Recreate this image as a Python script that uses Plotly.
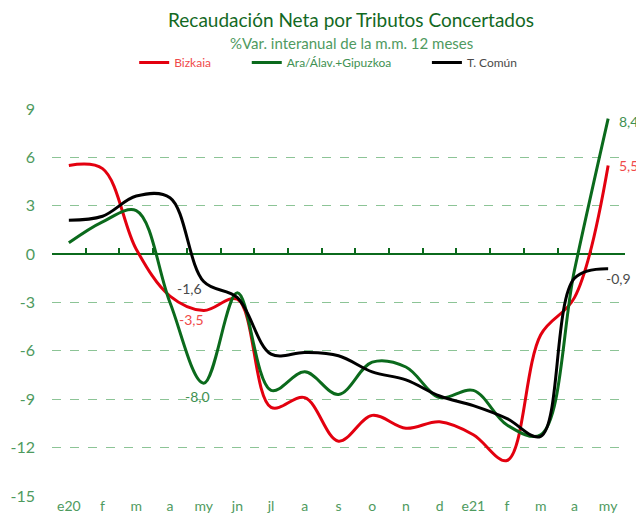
import plotly.graph_objects as go

meses = ["e20", "f", "m", "a", "my", "jn", "jl", "a", "s", "o", "n", "d", "e21", "f", "m", "a", "my"]
bizkaia = [5.5, 5.3, 0.3, -2.6, -3.5, -2.8, -9.5, -8.9, -11.6, -10.0, -10.8, -10.4, -11.2, -12.8, -5.0, -2.7, 5.5]
ara_gip = [0.7, 2.0, 2.7, -3.0, -8.0, -2.4, -8.45, -7.3, -8.7, -6.7, -7.0, -8.9, -8.45, -10.6, -11.2, -1.0, 8.4]
t_comun = [2.1, 2.35, 3.6, 3.5, -1.7, -2.7, -6.2, -6.1, -6.3, -7.3, -7.8, -8.8, -9.4, -10.2, -11.3, -1.5, -0.9]
y_ticks = [9, 6, 3, 0, -3, -6, -9, -12, -15]

RED = "#e3000f"
GREEN = "#0b6a1c"
BLACK = "#000000"
RED_TXT = "#f04a4a"
GREEN_TXT = "#3f9152"
GRAY_TXT = "#4a4a4a"
TICK_TXT = "#4e9a5e"
FONT = "Lato"

x = list(range(len(meses)))
n = len(meses)

fig = go.Figure()
series = [
    ("Bizkaia", bizkaia, RED, RED_TXT, 10),
    ("Ara/Álav.+Gipuzkoa", ara_gip, GREEN, GREEN_TXT, 10),
    ("T. Común", t_comun, BLACK, GRAY_TXT, 0),
]
for name, vals, col, tcol, pad in series:
    fig.add_trace(go.Scatter(
        x=x, y=vals, mode="lines",
        name=f"<span style='color:{tcol}'>{name}</span>" + "&nbsp;" * pad,
        line=dict(color=col, width=3, shape="spline", smoothing=1.0),
    ))

# dummy trace to realize the zero-line axis carrying boundary ticks
fig.add_trace(go.Scatter(x=x, y=[None] * n, xaxis="x2", showlegend=False, hoverinfo="skip"))

# data labels
i_my = meses.index("my")
last = n - 1
fig.add_annotation(x=x[i_my], y=t_comun[i_my], text=f"{t_comun[i_my]+0.1:.1f}".replace(".", ","),
                   showarrow=False, xanchor="right", yanchor="middle", xshift=0, yshift=-7,
                   font=dict(color=GRAY_TXT, size=14, family=FONT))
fig.add_annotation(x=x[i_my], y=bizkaia[i_my], text=f"{bizkaia[i_my]:.1f}".replace(".", ","),
                   showarrow=False, xanchor="right", yanchor="middle", xshift=2, yshift=-9,
                   font=dict(color=RED_TXT, size=14, family=FONT))
fig.add_annotation(x=x[i_my], y=ara_gip[i_my], text=f"{ara_gip[i_my]:.1f}".replace(".", ","),
                   showarrow=False, xanchor="center", yanchor="top", xshift=-6, yshift=-3,
                   font=dict(color=GREEN_TXT, size=14, family=FONT))
fig.add_annotation(x=x[last], y=ara_gip[last], text=f"{ara_gip[last]:.1f}".replace(".", ","),
                   showarrow=False, xanchor="left", yanchor="middle", xshift=9, yshift=-3,
                   font=dict(color=GREEN_TXT, size=14, family=FONT))
fig.add_annotation(x=x[last], y=bizkaia[last], text=f"{bizkaia[last]:.1f}".replace(".", ","),
                   showarrow=False, xanchor="left", yanchor="middle", xshift=9, yshift=0,
                   font=dict(color=RED_TXT, size=14, family=FONT))
fig.add_annotation(x=x[last], y=t_comun[last], text=f"{t_comun[last]:.1f}".replace(".", ","),
                   showarrow=False, xanchor="left", yanchor="middle", xshift=-4, yshift=-10,
                   font=dict(color=GRAY_TXT, size=14, family=FONT))

# title & subtitle
fig.add_annotation(xref="paper", yref="paper", x=0.522, y=1.23, xanchor="center", yanchor="middle",
                   text="Recaudación Neta por Tributos Concertados", showarrow=False,
                   font=dict(color="#13691f", size=19, family=FONT))
fig.add_annotation(xref="paper", yref="paper", x=0.522, y=1.17, xanchor="center", yanchor="middle",
                   text="%Var. interanual de la m.m. 12 meses", showarrow=False,
                   font=dict(color="#4f9a5f", size=15, family=FONT))

ymin, ymax = min(y_ticks), max(y_ticks)
zero_pos = (0 - ymin) / (ymax - ymin)

# page body adds an 8px margin; compensate so the chart fills the 644x524 window
fig.update_layout(
    width=636, height=516,
    margin=dict(l=44, r=19, t=101, b=28, autoexpand=False),
    paper_bgcolor="white", plot_bgcolor="white",
    font=dict(family=FONT, color=TICK_TXT),
    showlegend=True,
    legend=dict(orientation="h", x=0.482, xanchor="center", y=1.12, yanchor="middle",
                font=dict(size=12, family=FONT), itemwidth=30, tracegroupgap=0,
                bgcolor="rgba(0,0,0,0)"),
    xaxis=dict(
        range=[-0.5, n - 0.5], tickmode="array", tickvals=x, ticktext=meses,
        showgrid=False, zeroline=False, showline=False, ticks="", automargin=False,
        tickfont=dict(size=14, color=TICK_TXT, family=FONT),
    ),
    xaxis2=dict(
        overlaying="x", anchor="free", position=zero_pos, side="bottom",
        range=[-0.5, n - 0.5], tickmode="array", tickvals=[i - 0.5 for i in range(n + 1)],
        showticklabels=False, ticks="inside", ticklen=5, tickwidth=1.5, tickcolor=GREEN,
        showline=True, linecolor=GREEN, linewidth=2, showgrid=False, zeroline=False,
        layer="below traces", automargin=False,
    ),
    yaxis=dict(
        range=[ymin, ymax], tickmode="array", tickvals=y_ticks,
        ticktext=[str(v) for v in y_ticks],
        showgrid=True, gridcolor="#8cc496", griddash="dash", gridwidth=1,
        zeroline=False, showline=False, ticks="", ticklabelstandoff=16, automargin=False,
        tickfont=dict(size=16, color=TICK_TXT, family=FONT),
    ),
)

fig.write_html("out.html")
